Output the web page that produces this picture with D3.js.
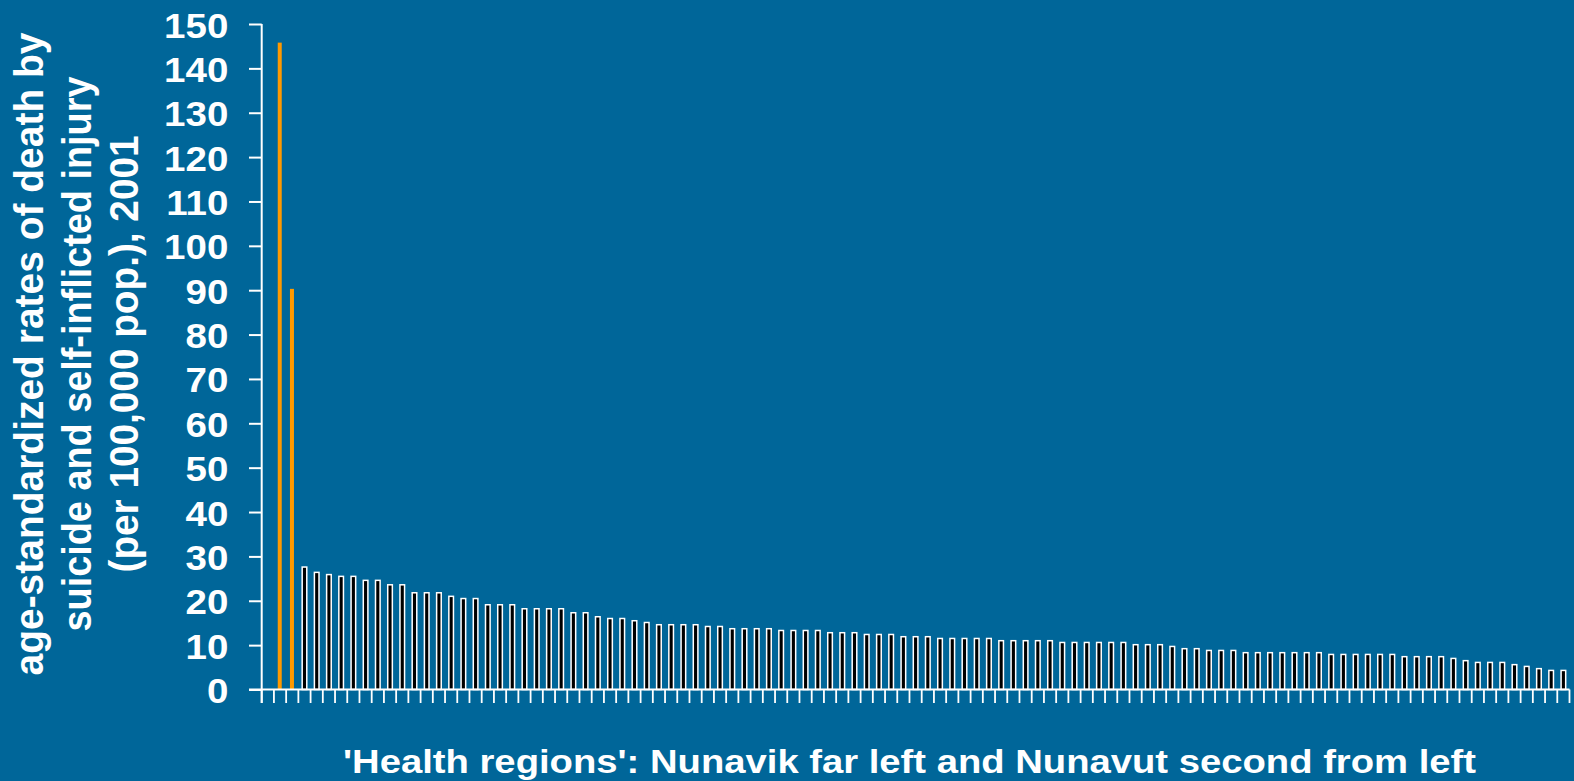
<!DOCTYPE html>
<html>
<head>
<meta charset="utf-8">
<script src="https://cdn.jsdelivr.net/npm/d3@7"></script>
<style>
  html, body { margin: 0; padding: 0; background: #006699; }
  svg { display: block; }
  text { font-family: "Liberation Sans", Arial, sans-serif; font-weight: bold; fill: #fff; }
</style>
</head>
<body>
<div id="chart"></div>
<script>
// Data: health regions sorted by rate, first slot is empty in the original
const highlighted = ["Nunavik", "Nunavut"];
const highlightValues = [145.8, 90.3];

const otherValues = [
    27.6, 26.4, 25.9, 25.5, 25.5, 24.6, 24.6, 23.6, 23.6, 21.8,
    21.8, 21.8, 21.0, 20.5, 20.5, 19.1, 19.1, 19.1, 18.2, 18.2,
    18.2, 18.2, 17.3, 17.3, 16.4, 16.0, 16.0, 15.5, 15.1, 14.6,
    14.6, 14.6, 14.6, 14.2, 14.2, 13.7, 13.7, 13.7, 13.7, 13.3,
    13.3, 13.3, 13.3, 12.8, 12.8, 12.8, 12.4, 12.4, 12.4, 11.9,
    11.9, 11.9, 11.5, 11.5, 11.5, 11.5, 11.5, 11.0, 11.0, 11.0,
    11.0, 11.0, 10.6, 10.6, 10.6, 10.6, 10.6, 10.6, 10.1, 10.1,
    10.1, 9.7, 9.2, 9.2, 8.8, 8.8, 8.8, 8.3, 8.3, 8.3,
    8.3, 8.3, 8.3, 8.3, 7.9, 7.9, 7.9, 7.9, 7.9, 7.9,
    7.4, 7.4, 7.4, 7.4, 7.0, 6.5, 6.1, 6.1, 6.1, 5.6,
    5.2, 4.7, 4.3, 4.3
];
const otherRegions = otherValues.map((d, i) => "Region " + (i + 4));

const categories = [""].concat(highlighted, otherRegions);
const values = [null].concat(highlightValues, otherValues);

const yTicks = d3.range(0, 151, 10);

const yTitleLines = [
    "age-standardized rates of death by",
    "suicide and self-inflicted injury",
    "(per 100,000 pop.), 2001"
];
const xTitle = "'Health regions': Nunavik far left and Nunavut second from left";

const width = 1574;
const height = 781;

const svg = d3.select('#chart')
    .append('svg')
    .attr('width', width)
    .attr('height', height);

svg.append('rect')
    .attr('width', width)
    .attr('height', height)
    .attr('fill', '#006699');

// Scales
const x = d3.scaleBand()
    .domain(categories)
    .range([261.7, 1569.5])
    .padding(0);

const y = d3.scaleLinear()
    .domain([0, 150])
    .range([689.5, 24]);

const data = categories.map((c, i) => ({ name: c, value: values[i] }));

// Bars
const barW = 4.6;
svg.append('g')
    .selectAll('rect')
    .data(data.filter(d => d.value !== null))
    .join('rect')
    .attr('x', d => x(d.name) + x.bandwidth() / 2 - barW / 2)
    .attr('y', d => y(d.value))
    .attr('width', d => highlighted.includes(d.name) ? 4 : barW)
    .attr('height', d => y(0) - y(d.value))
    .attr('fill', d => highlighted.includes(d.name) ? '#FF9900' : '#000')
    .attr('stroke', d => highlighted.includes(d.name) ? 'none' : '#fff')
    .attr('stroke-width', 1.5);

// Y axis
const yAxis = svg.append('g')
    .attr('transform', 'translate(261.7,0)')
    .call(d3.axisLeft(y).tickValues(yTicks).tickSize(12.7).tickSizeOuter(0));

yAxis.select('.domain').remove();
yAxis.selectAll('line').attr('stroke', '#fff').attr('stroke-width', 2);
yAxis.selectAll('text')
    .attr('x', 0)
    .attr('dy', 13)
    .attr('transform', 'translate(-33.4,0) scale(1.1,1)')
    .style('font-size', '35px')
    .style('font-family', '"Liberation Sans", Arial, sans-serif')
    .style('font-weight', 'bold')
    .attr('fill', '#fff');

// Axis lines
svg.append('line')
    .attr('x1', 261.7).attr('x2', 261.7)
    .attr('y1', 24).attr('y2', 703)
    .attr('stroke', '#fff').attr('stroke-width', 2);

svg.append('line')
    .attr('x1', 249).attr('x2', 1569.5)
    .attr('y1', y(0)).attr('y2', y(0))
    .attr('stroke', '#fff').attr('stroke-width', 2);

// X ticks between categories
const boundaries = categories.map(c => x(c)).concat([x.range()[1]]);
svg.append('g')
    .selectAll('line')
    .data(boundaries)
    .join('line')
    .attr('x1', d => d).attr('x2', d => d)
    .attr('y1', y(0)).attr('y2', 703)
    .attr('stroke', '#fff')
    .attr('stroke-width', 1.8);

// Titles
const yTitleX = [42.5, 90.5, 138];
yTitleLines.forEach((line, i) => {
    const lengths = [643, 555, 437];
    svg.append('text')
        .attr('transform', `translate(${yTitleX[i]},354) rotate(-90)`)
        .attr('text-anchor', 'middle')
        .attr('textLength', lengths[i])
        .attr('lengthAdjust', 'spacingAndGlyphs')
        .style('font-size', '40px')
        .text(line);
});

svg.append('text')
    .attr('x', 909.5)
    .attr('y', 772.7)
    .attr('text-anchor', 'middle')
    .attr('textLength', 1133)
    .attr('lengthAdjust', 'spacingAndGlyphs')
    .style('font-size', '34px')
    .text(xTitle);
</script>
</body>
</html>
